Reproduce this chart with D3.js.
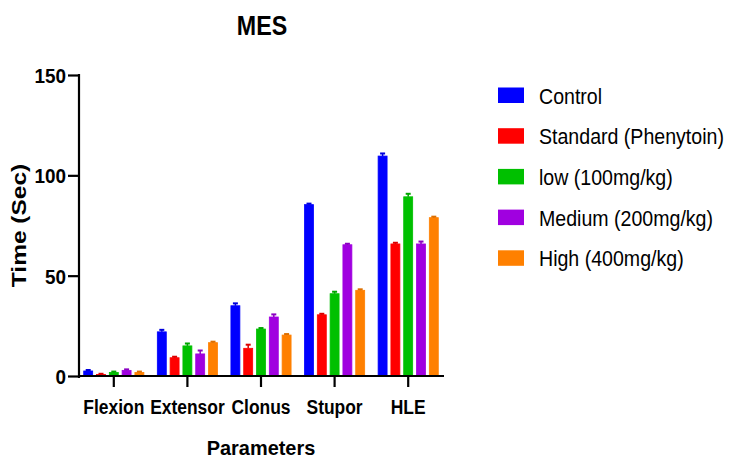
<!DOCTYPE html>
<html>
<head>
<meta charset="utf-8">
<script src="https://cdn.jsdelivr.net/npm/d3@7"></script>
<style>
  body { margin: 0; background: #fff; }
  text { font-family: "Liberation Sans", Arial, sans-serif; fill: #000; }
</style>
</head>
<body>
<div id="chart"></div>
<script>
// data
var categories = ["Flexion", "Extensor", "Clonus", "Stupor", "HLE"];
var groups = ["Control", "Standard (Phenytoin)", "low (100mg/kg)", "Medium (200mg/kg)", "High (400mg/kg)"];
var colors = ["#0000ff", "#ff0000", "#00c000", "#a000e0", "#ff8000"];

// mean values per group, in category order
var control  = [2.5, 22, 35, 85.4, 109.6];
var standard = [0.8, 9.1, 13.8, 30.5, 65.8];
var low      = [1.8, 15, 23.4, 41, 89.3];
var medium   = [2.8, 11, 29.4, 65.4, 65.8];
var high     = [1.8, 16.6, 20.4, 42.7, 78.9];

// error (SD) per group
var controlErr  = [0.5, 1, 1.2, 0.5, 1.3];
var standardErr = [0.3, 0.5, 1.8, 0.5, 0.6];
var lowErr      = [0.4, 1.2, 0.5, 1, 1.5];
var mediumErr   = [0.5, 1.7, 1.3, 0.5, 1.2];
var highErr     = [0.4, 0.5, 0.5, 0.5, 0.5];

var yTicks = [0, 50, 100, 150];

var means = [control, standard, low, medium, high];
var errs = [controlErr, standardErr, lowErr, mediumErr, highErr];

var svgWidth = 729;
var svgHeight = 459;

var svg = d3.select("#chart")
  .append("svg")
  .attr("width", svgWidth)
  .attr("height", svgHeight);

// squeeze text horizontally, the source font is a narrow one
function squeeze(sel, k) {
  sel.each(function () {
    var w = this.getComputedTextLength();
    d3.select(this)
      .attr("textLength", w * k)
      .attr("lengthAdjust", "spacingAndGlyphs");
  });
}

var x0 = d3.scaleBand()
  .domain(categories)
  .range([77, 445]);

var x1 = d3.scaleBand()
  .domain(groups)
  .range([-32, 32])
  .paddingInner(0.3)
  .paddingOuter(0.15);

var y = d3.scaleLinear()
  .domain([0, 150])
  .range([376, 75]);

// flatten to one record per bar
var bars = [];
categories.forEach(function (c, i) {
  groups.forEach(function (g, j) {
    bars.push({ cat: c, group: g, value: means[j][i], err: errs[j][i], color: colors[j] });
  });
});

function barMid(d) {
  return x0(d.cat) + x0.bandwidth() / 2 + x1(d.group) + x1.bandwidth() / 2;
}

var barGroup = svg.append("g");

barGroup.selectAll("rect")
  .data(bars)
  .enter()
  .append("rect")
  .attr("x", d => barMid(d) - x1.bandwidth() / 2)
  .attr("y", d => y(d.value))
  .attr("width", x1.bandwidth())
  .attr("height", d => y(0) - y(d.value))
  .attr("fill", d => d.color)
  .attr("stroke", d => d.color)
  .attr("stroke-width", 0.8);

// error bars, upper side only
var errGroup = barGroup.selectAll("g.err")
  .data(bars)
  .enter()
  .append("g")
  .attr("class", "err")
  .attr("stroke", d => d3.color(d.color).darker(0.4))
  .attr("stroke-width", 1.5);

errGroup.append("line")
  .attr("x1", barMid)
  .attr("x2", barMid)
  .attr("y1", d => y(d.value))
  .attr("y2", d => y(d.value + d.err));

errGroup.append("line")
  .attr("x1", d => barMid(d) - 2.5)
  .attr("x2", d => barMid(d) + 2.5)
  .attr("y1", d => y(d.value + d.err))
  .attr("y2", d => y(d.value + d.err))
  .attr("stroke-width", 2);

// y axis
var yAxis = svg.append("g")
  .attr("transform", "translate(79,0)")
  .call(d3.axisLeft(y).tickValues(yTicks).tickSize(11).tickPadding(2).tickSizeOuter(0));

yAxis.select(".domain").attr("stroke-width", 2.2).attr("d", "M0,74V378");
yAxis.selectAll(".tick line").attr("stroke-width", 2.2);
yAxis.selectAll(".tick text")
  .attr("dy", "0.36em")
  .style("font-size", "21px")
  .style("font-weight", "bold")
  .style("font-family", "'Liberation Sans', Arial, sans-serif")
  .call(squeeze, 0.9);

// x axis
var xAxis = svg.append("g")
  .attr("transform", "translate(0,376)")
  .call(d3.axisBottom(x0).tickSize(11).tickPadding(12).tickSizeOuter(0));

xAxis.select(".domain").attr("stroke-width", 2.2).attr("d", "M78,0H444");
xAxis.selectAll(".tick line").attr("stroke-width", 2.2);
xAxis.selectAll(".tick text")
  .attr("dy", "0.72em")
  .attr("transform", "scale(0.83,1)")
  .style("font-size", "21px")
  .style("font-weight", "bold")
  .style("font-family", "'Liberation Sans', Arial, sans-serif");

// title and axis titles
svg.append("text")
  .attr("x", 262)
  .attr("y", 35)
  .attr("text-anchor", "middle")
  .style("font-size", "28px")
  .style("font-weight", "bold")
  .text("MES")
  .call(squeeze, 0.83);

svg.append("text")
  .attr("transform", "translate(261,454.5) scale(0.95,1)")
  .attr("text-anchor", "middle")
  .style("font-size", "21px")
  .style("font-weight", "bold")
  .text("Parameters");

svg.append("text")
  .attr("transform", "translate(26,225.5) scale(0.8,1) rotate(-90)")
  .attr("text-anchor", "middle")
  .style("font-size", "24.5px")
  .style("font-weight", "bold")
  .text("Time (Sec)");

// legend
var legend = svg.append("g")
  .selectAll("g")
  .data(groups)
  .enter()
  .append("g")
  .attr("transform", (d, i) => `translate(498, ${87.5 + i * 40.7})`);

legend.append("rect")
  .attr("width", 26)
  .attr("height", 15.5)
  .attr("fill", (d, i) => colors[i]);

legend.append("text")
  .attr("transform", "translate(41,16) scale(0.89,1)")
  .style("font-size", "22px")
  .text(d => d);
</script>
</body>
</html>
